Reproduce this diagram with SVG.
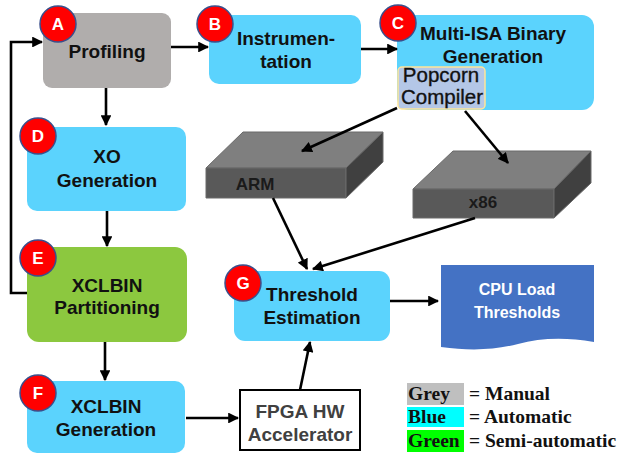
<svg xmlns="http://www.w3.org/2000/svg" width="618" height="454" viewBox="0 0 618 454">
  <defs>
    <marker id="arrow" viewBox="0 0 10 10" refX="9" refY="5" markerWidth="4.4" markerHeight="4.2" orient="auto" markerUnits="strokeWidth">
      <path d="M0,0 L10,5 L0,10 Z" fill="#000"/>
    </marker>
    <style>
      .box { stroke: none; }
      .grey { fill: #b0adac; }
      .blue { fill: #5bd3fd; }
      .green { fill: #8cc83f; }
      .lbl { font-family: "Liberation Sans", Arial, sans-serif; font-weight: bold; font-size: 19px; fill: #111; text-anchor: middle; }
      .badge circle { fill: #ff0000; stroke: #3a4f8c; stroke-width: 1.5; }
      .badge text { font-family: "Liberation Sans", Arial, sans-serif; font-weight: bold; font-size: 17px; fill: #fff; text-anchor: middle; }
      .conn line, .conn polyline { stroke: #000; stroke-width: 2.6; fill: none; marker-end: url(#arrow); }
      .legend text { font-family: "Liberation Serif", "Times New Roman", serif; font-weight: bold; font-size: 19.5px; fill: #111; }
    </style>
  </defs>

  <rect width="618" height="454" fill="#fff"/>

  <!-- A: Profiling -->
  <g id="node-a">
    <rect class="box grey" x="43" y="13" width="128" height="75" rx="9"/>
    <text class="lbl" x="107" y="58">Profiling</text>
    <g class="badge"><circle cx="58" cy="24" r="18"/><text x="58" y="30">A</text></g>
  </g>

  <!-- B: Instrumentation -->
  <g id="node-b">
    <rect class="box blue" x="209" y="15" width="152" height="69" rx="10"/>
    <text class="lbl" x="286" y="45">Instrumen-</text>
    <text class="lbl" x="286" y="68">tation</text>
    <g class="badge"><circle cx="215" cy="24" r="18"/><text x="215" y="30">B</text></g>
  </g>

  <!-- C: Multi-ISA binary generation -->
  <g id="node-c">
    <rect class="box blue" x="397" y="15" width="197" height="95" rx="12"/>
    <text class="lbl" x="493" y="40">Multi-ISA Binary</text>
    <text class="lbl" x="493" y="63">Generation</text>
    <g class="badge"><circle cx="398" cy="23" r="18"/><text x="398" y="29">C</text></g>
  </g>

  <!-- Popcorn compiler -->
  <g id="node-popcorn">
    <rect x="398" y="67" width="87" height="42" rx="4" fill="#b4c7e7" stroke="#ffe699" stroke-width="1.5"/>
    <text x="441" y="82" font-family="Liberation Sans, Arial, sans-serif" font-size="20.5px" fill="#111" text-anchor="middle" stroke="#111" stroke-width="0.35">Popcorn</text>
    <text x="442" y="104" font-family="Liberation Sans, Arial, sans-serif" font-size="20.5px" fill="#111" text-anchor="middle" stroke="#111" stroke-width="0.35">Compiler</text>
  </g>

  <!-- D: XO generation -->
  <g id="node-d">
    <rect class="box blue" x="27" y="127" width="159" height="84" rx="10"/>
    <text class="lbl" x="107" y="163">XO</text>
    <text class="lbl" x="107" y="187">Generation</text>
    <g class="badge"><circle cx="38" cy="136" r="18"/><text x="38" y="142">D</text></g>
  </g>

  <!-- E: XCLBIN partitioning -->
  <g id="node-e">
    <rect class="box green" x="27" y="247" width="160" height="95" rx="12"/>
    <text class="lbl" x="107" y="292">XCLBIN</text>
    <text class="lbl" x="107" y="314">Partitioning</text>
    <g class="badge"><circle cx="38" cy="258" r="18"/><text x="38" y="264">E</text></g>
  </g>

  <!-- F: XCLBIN generation -->
  <g id="node-f">
    <rect class="box blue" x="27" y="381" width="158" height="72" rx="10"/>
    <text class="lbl" x="106" y="413">XCLBIN</text>
    <text class="lbl" x="106" y="436">Generation</text>
    <g class="badge"><circle cx="38" cy="393" r="18"/><text x="38" y="399">F</text></g>
  </g>

  <!-- ARM platform block -->
  <g id="node-arm">
    <polygon points="206,168 243,132 383,132 346,168" fill="#7f7f7f" stroke="#6a6a6a" stroke-width="1"/>
    <polygon points="206,168 346,168 346,198 206,198" fill="#595959" stroke="#6a6a6a" stroke-width="1"/>
    <polygon points="346,168 383,132 383,162 346,198" fill="#404040" stroke="#6a6a6a" stroke-width="1"/>
    <text x="255" y="190" font-family="Liberation Sans, Arial, sans-serif" font-weight="bold" font-size="17px" fill="#1a1a1a" text-anchor="middle">ARM</text>
  </g>

  <!-- x86 platform block -->
  <g id="node-x86">
    <polygon points="413,189 453,151 591,151 554,189" fill="#7f7f7f" stroke="#6a6a6a" stroke-width="1"/>
    <polygon points="413,189 554,189 554,218 413,218" fill="#595959" stroke="#6a6a6a" stroke-width="1"/>
    <polygon points="554,189 591,151 591,183 554,218" fill="#404040" stroke="#6a6a6a" stroke-width="1"/>
    <text x="483" y="208" font-family="Liberation Sans, Arial, sans-serif" font-weight="bold" font-size="17px" fill="#1a1a1a" text-anchor="middle">x86</text>
  </g>

  <!-- G: Threshold estimation -->
  <g id="node-g">
    <rect class="box blue" x="234" y="271" width="156" height="70" rx="11"/>
    <text class="lbl" x="312" y="301">Threshold</text>
    <text class="lbl" x="312" y="324">Estimation</text>
    <g class="badge"><circle cx="243" cy="283" r="18"/><text x="243" y="289">G</text></g>
  </g>

  <!-- FPGA hardware accelerator -->
  <g id="node-fpga">
    <rect x="240" y="390" width="120" height="60" fill="#fff" stroke="#000" stroke-width="2"/>
    <text class="lbl" x="300" y="418" style="fill:#404040">FPGA HW</text>
    <text class="lbl" x="300" y="441" style="fill:#404040">Accelerator</text>
  </g>

  <!-- CPU load thresholds document -->
  <g id="node-cpu">
    <path d="M441,265 H594 V342 C565,337 540,338 518,344 C495,350 470,351 441,347 Z" fill="#4472c4"/>
    <text x="517" y="295" font-family="Liberation Sans, Arial, sans-serif" font-weight="bold" font-size="16px" fill="#fff" text-anchor="middle">CPU Load</text>
    <text x="517" y="318" font-family="Liberation Sans, Arial, sans-serif" font-weight="bold" font-size="16px" fill="#fff" text-anchor="middle">Thresholds</text>
  </g>

  <!-- colour legend -->
  <g id="legend" class="legend">
    <rect x="407" y="383" width="57" height="22" fill="#bfbfbf"/>
    <rect x="407" y="407" width="57" height="20" fill="#00ffff"/>
    <rect x="407" y="430" width="57" height="22" fill="#00ff00"/>
    <text x="408" y="400">Grey</text>
    <text x="408" y="423">Blue</text>
    <text x="408" y="447">Green</text>
    <text x="469" y="400">= Manual</text>
    <text x="469" y="423">= Automatic</text>
    <text x="469" y="447">= Semi-automatic</text>
  </g>

  <!-- connectors, drawn last so they sit on top of the platform blocks -->
  <g id="connectors" class="conn">
    <line x1="171" y1="47" x2="208" y2="47"/>
    <line x1="361" y1="49" x2="397" y2="49"/>
    <line x1="106" y1="88" x2="106" y2="125"/>
    <line x1="107" y1="211" x2="107" y2="246"/>
    <line x1="105" y1="342" x2="105" y2="380"/>
    <polyline points="27,293 11,293 11,42 42,42"/>
    <line x1="186" y1="418" x2="238" y2="418"/>
    <line x1="300" y1="390" x2="310" y2="342"/>
    <line x1="390" y1="301" x2="438" y2="301"/>
    <line x1="397" y1="108" x2="302" y2="151"/>
    <line x1="465" y1="111" x2="508" y2="163"/>
    <line x1="273" y1="198" x2="307" y2="269"/>
    <line x1="475" y1="218" x2="313" y2="269"/>
  </g>
</svg>
